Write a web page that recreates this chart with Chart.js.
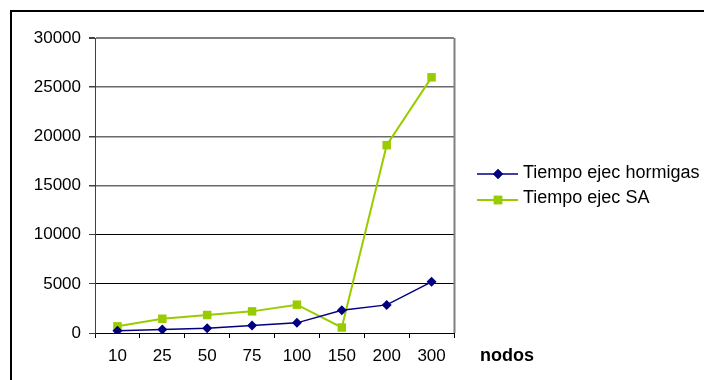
<!DOCTYPE html>
<html>
<head>
<meta charset="utf-8">
<script src="https://cdn.jsdelivr.net/npm/chart.js@4.4.0/dist/chart.umd.min.js"></script>
<style>
  html, body { margin: 0; padding: 0; background: #fff; overflow: hidden; }
  #wrap { position: relative; width: 704px; height: 380px; overflow: hidden; }
  #frame { position: absolute; left: 10px; top: 10px; width: 720px; height: 400px; border: 2px solid #000; box-sizing: border-box; }
  #c { position: absolute; left: 0; top: 0; }
</style>
</head>
<body>
<div id="wrap">
  <div id="frame"></div>
  <canvas id="c" width="704" height="380"></canvas>
</div>
<script>
const categories = ['10', '25', '50', '75', '100', '150', '200', '300'];
const hormigas = [220, 350, 480, 760, 1030, 2320, 2860, 5200];
const sa = [680, 1450, 1830, 2200, 2880, 560, 19100, 26000];
const seriesNames = ['Tiempo ejec hormigas', 'Tiempo ejec SA'];
const xAxisName = 'nodos';
const yMin = 0, yMax = 30000, yStep = 5000;

const BLUE = '#000080';
const GREEN = '#99CC00';
const FONT = '"Liberation Sans", Arial, sans-serif';

const extras = {
  id: 'extras',
  afterDraw(chart) {
    const ctx = chart.ctx;
    const a = chart.chartArea;
    ctx.save();
    // plot right border
    ctx.strokeStyle = '#808080';
    ctx.lineWidth = 2;
    ctx.beginPath();
    ctx.moveTo(a.right + 0.5, a.top);
    ctx.lineTo(a.right + 0.5, a.bottom);
    ctx.stroke();

    // legend
    const rows = [
      { name: seriesNames[0], color: BLUE, style: 'rectRot', r: 5, lw: 1.5, ly: 174, ty: 173 },
      { name: seriesNames[1], color: GREEN, style: 'rect', r: 6, lw: 2, ly: 200, ty: 198 }
    ];
    rows.forEach(row => {
      ctx.strokeStyle = row.color;
      ctx.lineWidth = row.lw;
      ctx.beginPath();
      ctx.moveTo(477, row.ly);
      ctx.lineTo(518, row.ly);
      ctx.stroke();
      ctx.fillStyle = row.color;
      Chart.helpers.drawPoint(ctx, { pointStyle: row.style, radius: row.r, rotation: 0, borderWidth: 0 }, 498, row.ly);
      ctx.fill();
      ctx.fillStyle = '#000';
      ctx.font = '18px ' + FONT;
      ctx.textBaseline = 'middle';
      ctx.textAlign = 'left';
      ctx.fillText(row.name, 523, row.ty);
    });

    // x axis name
    ctx.fillStyle = '#000';
    ctx.font = 'bold 18px ' + FONT;
    ctx.textBaseline = 'middle';
    ctx.textAlign = 'left';
    ctx.fillText(xAxisName, 480, 356);
    ctx.restore();
  }
};

new Chart(document.getElementById('c'), {
  type: 'line',
  data: {
    labels: categories,
    datasets: [
      {
        label: seriesNames[0],
        data: hormigas,
        borderColor: BLUE,
        backgroundColor: BLUE,
        borderWidth: 1.5,
        pointStyle: 'rectRot',
        pointRadius: 5,
        pointBorderWidth: 0,
        pointBackgroundColor: BLUE,
        tension: 0
      },
      {
        label: seriesNames[1],
        data: sa,
        borderColor: GREEN,
        backgroundColor: GREEN,
        borderWidth: 2,
        pointStyle: 'rect',
        pointRadius: 6,
        pointBorderWidth: 0,
        pointBackgroundColor: GREEN,
        tension: 0
      }
    ]
  },
  options: {
    responsive: false,
    animation: false,
    devicePixelRatio: 1,
    layout: { padding: { left: 0, right: 250, top: 38, bottom: 0 } },
    plugins: {
      legend: { display: false },
      tooltip: { enabled: false },
      title: { display: false }
    },
    scales: {
      x: {
        type: 'category',
        offset: true,
        afterFit: s => { s.height = 47; },
        grid: {
          offset: true,
          drawOnChartArea: false,
          drawTicks: true,
          tickLength: 5,
          tickColor: '#000',
          color: '#000'
        },
        border: { color: '#000', width: 1 },
        ticks: {
          color: '#000',
          font: { family: FONT, size: 17 },
          padding: 8,
          maxRotation: 0,
          autoSkip: false
        }
      },
      y: {
        min: yMin,
        max: yMax,
        afterFit: s => { s.width = 95; },
        grid: {
          drawTicks: true,
          tickLength: 6,
          tickColor: '#404040',
          color: ctx => {
            const v = ctx.tick ? ctx.tick.value : 0;
            if (v === yMax) return '#808080';
            if (v >= 15000) return '#6a6a6a';
            return '#000';
          },
          lineWidth: ctx => {
            const v = ctx.tick ? ctx.tick.value : 0;
            if (v === yMax) return 2;
            if (v >= 15000) return 1.5;
            return 1;
          }
        },
        border: { color: '#404040', width: 1 },
        ticks: {
          stepSize: yStep,
          color: '#000',
          font: { family: FONT, size: 17 },
          padding: 8,
          callback: v => String(v)
        }
      }
    }
  },
  plugins: [extras]
});
</script>
</body>
</html>
